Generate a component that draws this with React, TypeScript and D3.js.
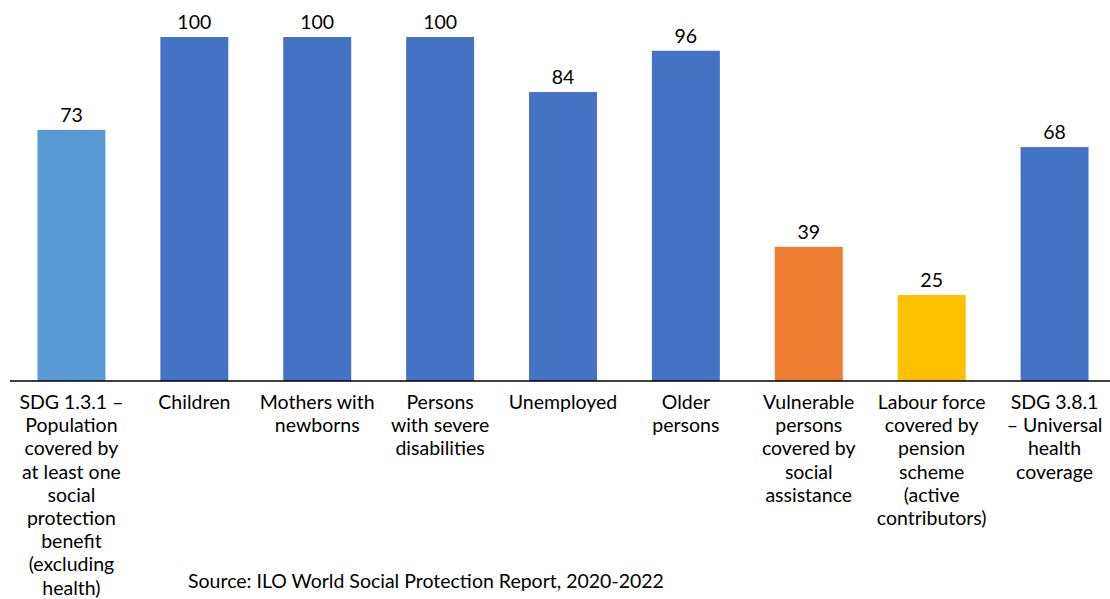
import React from "react";
import * as d3 from "d3";

const categories: string[][] = [
  ["SDG 1.3.1 –", "Population", "covered by", "at least one", "social", "protection", "benefit", "(excluding", "health)"],
  ["Children"],
  ["Mothers with", "newborns"],
  ["Persons", "with severe", "disabilities"],
  ["Unemployed"],
  ["Older", "persons"],
  ["Vulnerable", "persons", "covered by", "social", "assistance"],
  ["Labour force", "covered by", "pension", "scheme", "(active", "contributors)"],
  ["SDG 3.8.1", "– Universal", "health", "coverage"],
];
const values: number[] = [73, 100, 100, 100, 84, 96, 39, 25, 68];
const colors: string[] = ["#5B9BD5", "#4472C4", "#4472C4", "#4472C4", "#4472C4", "#4472C4", "#ED7D31", "#FFC000", "#4472C4"];
const source = "Source: ILO World Social Protection Report, 2020-2022";

const W = 1110;
const H = 599;
const FONT = "Lato, 'Open Sans', sans-serif";
const FS = 19.5;

export default function App() {
  const idx = values.map((_, i) => String(i));
  const x = d3.scaleBand<string>().domain(idx).range([10, 1116]).paddingInner(0.447).paddingOuter(0.2235);
  const y = d3.scaleLinear().domain([0, 100]).range([381, 37]);
  const lineH = 23.2;
  return (
    <svg width={W} height={H} style={{ position: "absolute", left: 0, top: 0, background: "#fff" }}>
      {values.map((v, i) => {
        const bx = x(String(i))!;
        const bw = x.bandwidth();
        return (
          <g key={i}>
            <rect x={bx} y={y(v)} width={bw} height={y(0) - y(v)} fill={colors[i]} />
            <text x={bx + bw / 2} y={y(v) - 8} textAnchor="middle" fontFamily={FONT} fontSize={FS} fill="#000">
              {v}
            </text>
            {categories[i].map((line, j) => (
              <text key={j} x={bx + bw / 2} y={409 + j * lineH} textAnchor="middle" fontFamily={FONT} fontSize={FS} fill="#000">
                {line}
              </text>
            ))}
          </g>
        );
      })}
      <line x1={10} x2={W} y1={381} y2={381} stroke="#000" strokeWidth={1.5} />
      <text x={188} y={588} fontFamily={FONT} fontSize={FS} fill="#000">{source}</text>
    </svg>
  );
}
